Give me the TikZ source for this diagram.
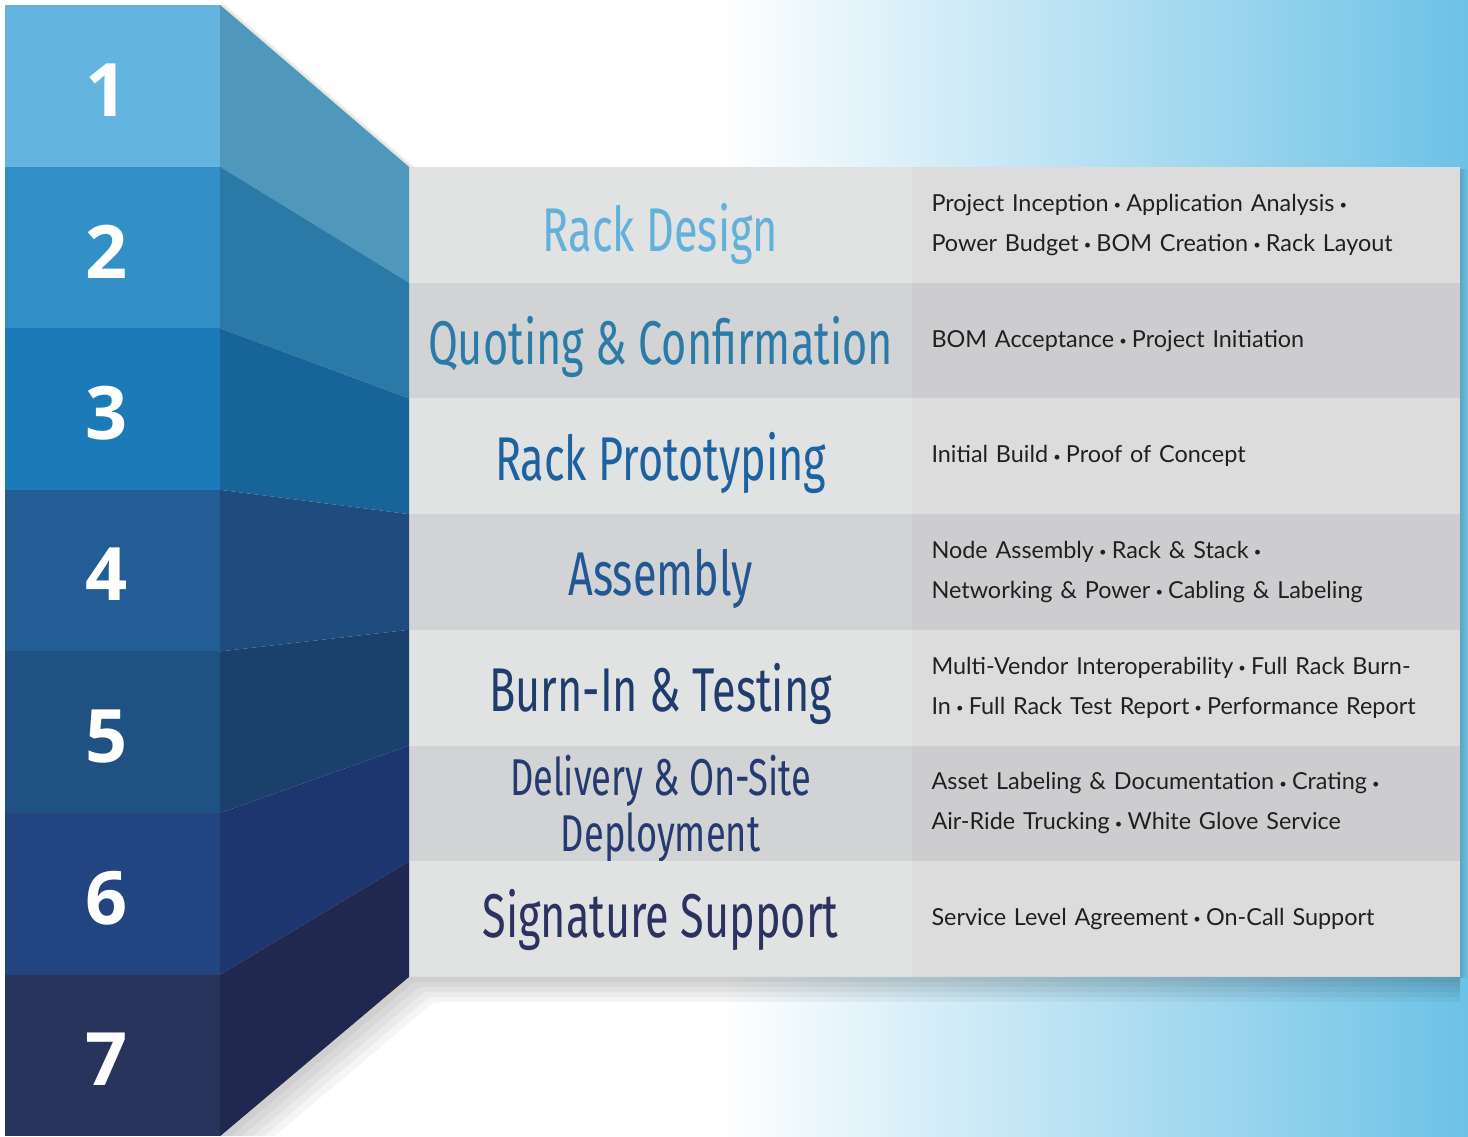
\documentclass[tikz,border=0pt]{standalone}
\usepackage{fontspec}
\setmainfont{Lato}
\newfontfamily\titlefont[FakeStretch=0.70]{Fira Sans}
\newfontfamily\numfont{Open Sans}
\usepackage{xcolor}
\usetikzlibrary{positioning}
\usetikzlibrary{fadings}
\hyphenpenalty=10000
\definecolor{bgblue}{HTML}{6CC2E6}
\definecolor{num1}{HTML}{63B4DE}
\definecolor{num2}{HTML}{3390C6}
\definecolor{num3}{HTML}{1A7BB8}
\definecolor{num4}{HTML}{235D95}
\definecolor{num5}{HTML}{1F5283}
\definecolor{num6}{HTML}{224481}
\definecolor{num7}{HTML}{29345C}
\definecolor{face1}{HTML}{4F97BB}
\definecolor{face2}{HTML}{2A79A6}
\definecolor{face3}{HTML}{166498}
\definecolor{face4}{HTML}{1F4C7E}
\definecolor{face5}{HTML}{1A406C}
\definecolor{face6}{HTML}{1D3670}
\definecolor{face7}{HTML}{20284F}
\definecolor{head1}{HTML}{62B1DA}
\definecolor{head2}{HTML}{2A7BA8}
\definecolor{head3}{HTML}{1C62A0}
\definecolor{head4}{HTML}{225794}
\definecolor{head5}{HTML}{1F3C6C}
\definecolor{head6}{HTML}{243A70}
\definecolor{head7}{HTML}{2B3260}
\definecolor{rowlight}{HTML}{E1E2E2}
\definecolor{rowdark}{HTML}{D2D3D4}
\definecolor{infolight}{HTML}{DCDCDD}
\definecolor{infodark}{HTML}{CDCDCF}
\definecolor{infotext}{HTML}{231F20}
\newcommand{\bul}{\hspace{0.22em}\raisebox{1.6bp}{\fontsize{13}{13}\selectfont •}\hspace{0.22em}}
\tikzstyle{numcell} = [rectangle, minimum width=215bp, minimum height=161.6bp, inner sep=0pt, outer sep=0pt, text=white, text depth=0pt, font=\numfont\bfseries\fontsize{74}{74}\selectfont]
\tikzstyle{titlecell} = [rectangle, minimum width=503bp, minimum height=115.7bp, inner sep=0pt, outer sep=0pt, align=center, text depth=0pt, font=\titlefont\fontsize{62}{56}\selectfont]
\tikzstyle{infocell} = [rectangle, minimum width=548bp, minimum height=115.7bp, text width=509bp, inner xsep=19.5bp, inner ysep=0pt, outer sep=0pt, align=left, text=infotext, font=\fontsize{23.5}{40}\selectfont]

\begin{document}
\begin{tikzpicture}[x=1bp, y=-1bp]
    \useasboundingbox (0,0) rectangle (1468,1136);
    \fill[white] (0,0) rectangle (1468,1136);
    \shade[left color=white, right color=bgblue] (720,0) rectangle (1468,1136);
    % number column
    \node (n1) [numcell, fill=num1, anchor=north west] at (5,5) {\hspace*{-12bp}\raisebox{-8bp}{1}};
    \node (n2) [numcell, fill=num2, below = 0pt of n1] {\hspace*{-12bp}\raisebox{-8bp}{2}};
    \node (n3) [numcell, fill=num3, below = 0pt of n2] {\hspace*{-12bp}\raisebox{-8bp}{3}};
    \node (n4) [numcell, fill=num4, below = 0pt of n3] {\hspace*{-12bp}\raisebox{-8bp}{4}};
    \node (n5) [numcell, fill=num5, below = 0pt of n4] {\hspace*{-12bp}\raisebox{-8bp}{5}};
    \node (n6) [numcell, fill=num6, below = 0pt of n5] {\hspace*{-12bp}\raisebox{-8bp}{6}};
    \node (n7) [numcell, fill=num7, below = 0pt of n6] {\hspace*{-12bp}\raisebox{-8bp}{7}};
    % step titles
    \node (t1) [titlecell, fill=rowlight, text=head1, anchor=north west] at (409,167) {\raisebox{-6bp}{Rack Design}};
    \node (t2) [titlecell, fill=rowdark, text=head2, below = 0pt of t1] {Quoting \& Confirmation};
    \node (t3) [titlecell, fill=rowlight, text=head3, below = 0pt of t2] {Rack Prototyping};
    \node (t4) [titlecell, fill=rowdark, text=head4, below = 0pt of t3] {Assembly};
    \node (t5) [titlecell, fill=rowlight, text=head5, below = 0pt of t4] {Burn-In \& Testing};
    \node (t6) [titlecell, fill=rowdark, text=head6, below = 0pt of t5, font=\titlefont\fontsize{52}{56}\selectfont] {Delivery \& On-Site\\Deployment};
    \node (t7) [titlecell, fill=rowlight, text=head7, below = 0pt of t6] {\raisebox{12bp}{Signature Support}};
    % step details
    \node (d1) [infocell, fill=infolight, right = 0pt of t1] {Project Inception\bul Application Analysis\bul\\Power Budget\bul BOM Creation\bul Rack Layout};
    \node (d2) [infocell, fill=infodark, right = 0pt of t2] {BOM Acceptance\bul Project Initiation};
    \node (d3) [infocell, fill=infolight, right = 0pt of t3] {Initial Build\bul Proof of Concept};
    \node (d4) [infocell, fill=infodark, right = 0pt of t4] {Node Assembly\bul Rack \& Stack\bul\\Networking \& Power\bul Cabling \& Labeling};
    \node (d5) [infocell, fill=infolight, right = 0pt of t5] {Multi-Vendor Interoperability\bul Full Rack Burn-\\In\bul Full Rack Test Report\bul Performance Report};
    \node (d6) [infocell, fill=infodark, right = 0pt of t6] {Asset Labeling \& Documentation\bul Crating\bul\\Air-Ride Trucking\bul White Glove Service};
    \node (d7) [infocell, fill=infolight, right = 0pt of t7] {Service Level Agreement\bul On-Call Support};
    % slanted faces
    \fill[face1] (n1.north east) -- (t1.north west) -- (t1.south west) -- (n1.south east) -- cycle;
    \fill[face2] (n2.north east) -- (t2.north west) -- (t2.south west) -- (n2.south east) -- cycle;
    \fill[face3] (n3.north east) -- (t3.north west) -- (t3.south west) -- (n3.south east) -- cycle;
    \fill[face4] (n4.north east) -- (t4.north west) -- (t4.south west) -- (n4.south east) -- cycle;
    \fill[face5] (n5.north east) -- (t5.north west) -- (t5.south west) -- (n5.south east) -- cycle;
    \fill[face6] (n6.north east) -- (t6.north west) -- (t6.south west) -- (n6.south east) -- cycle;
    \fill[face7] (n7.north east) -- (t7.north west) -- (t7.south west) -- (n7.south east) -- cycle;
    % shadows
    \foreach \s in {5,10,15,20,25}
        \fill[black, opacity=0.04] (n7.south east) -- (t7.south west) -- (d7.south east) -- ++(0,\s) -- (409+\s,977+\s) -- (220+2.19*\s,1136) -- cycle;
    \foreach \s in {2,4,6}
        \fill[black, opacity=0.04] (n1.north east) -- (t1.north west) -- ++(\s,0) -- (220+\s,5) -- cycle;
    \fill[black, opacity=0.15, path fading=east] (d1.north east) rectangle (1468,977);
\end{tikzpicture}
\end{document}
